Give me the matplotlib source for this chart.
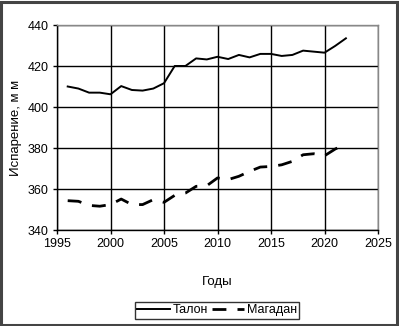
import matplotlib
matplotlib.use("Agg")
import matplotlib.pyplot as plt
from matplotlib.patches import Rectangle

# data
years = list(range(1996, 2023))
talon = [410, 409, 407, 407, 406.2, 410.2, 408.3, 408, 409, 411.6,
         420, 420, 423.7, 423.2, 424.5, 423.4, 425.4, 424.2, 425.9, 425.9,
         424.9, 425.4, 427.5, 427, 426.5, 429.8, 433.5]
magadan = [354.3, 354, 352, 351.6, 352.4, 355.1, 352.4, 352.4, 354.8, 353.5,
           356.9, 358, 361.3, 361.6, 365.4, 364.6, 366.2, 368.6, 370.7, 371,
           371.8, 373.5, 376.7, 377.2, 376.2, 379.5, 382]
xticks = [1995, 2000, 2005, 2010, 2015, 2020, 2025]
yticks = [340, 360, 380, 400, 420, 440]

plt.rcParams['font.family'] = ['Liberation Sans', 'DejaVu Sans']

W, H = 399, 326
fig = plt.figure(figsize=(W / 100, H / 100), dpi=100)
ax = fig.add_axes([57 / W, 1 - 230 / H, (378 - 57) / W, (230 - 25) / H])

ax.plot(years, talon, color='black', lw=1.4, label='Талон')
ax.plot(years, magadan, color='black', lw=2.0, dashes=(5, 4), label='Магадан')

ax.set_xlim(1995, 2025)
ax.set_ylim(340, 440)
ax.set_xticks(xticks)
ax.set_yticks(yticks)
ax.tick_params(labelsize=9, length=3, width=1, direction='out', pad=3)
ax.grid(True, color='black', lw=1)
for s in ax.spines.values():
    s.set_linewidth(1)
ax.spines['top'].set_color('#888888')
ax.spines['right'].set_color('#888888')

ax.set_xlabel('Годы', fontsize=9.5)
ax.xaxis.set_label_coords(0.5, -46 / 205)
ax.set_ylabel('Испарение, м м', fontsize=9.5)
ax.yaxis.set_label_coords(-35 / 321, 0.5)

leg = fig.legend(loc='center', bbox_to_anchor=(217 / W, 1 - 310 / H), ncol=2,
                 fontsize=9, frameon=True, fancybox=False, edgecolor='black',
                 handlelength=2.6, handletextpad=0.2, columnspacing=0.3,
                 borderpad=0.2)
leg.get_frame().set_linewidth(1)

# outer frame of the picture
fig.patches.append(Rectangle((1 / W, 1 / H), 1 - 3.5 / W, 1 - 3 / H,
                             transform=fig.transFigure, fill=False,
                             edgecolor='#444444', lw=2.2))

fig.savefig('out.png', dpi=100)
